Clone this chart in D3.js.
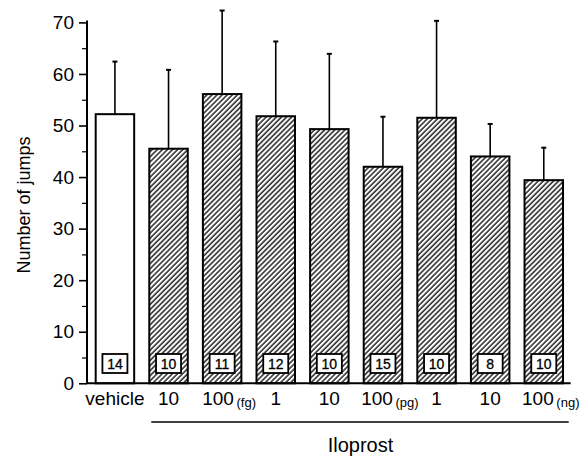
<!DOCTYPE html>
<html><head><meta charset="utf-8">
<script src="https://cdn.jsdelivr.net/npm/d3@7"></script>
<style>body{margin:0;background:#fff}svg{display:block}</style>
</head><body>
<script>
const labels = ["vehicle","10","100","1","10","100","1","10","100"];
const units  = ["","","(fg)","","","(pg)","","","(ng)"];
const means  = [52.2, 45.5, 56.1, 51.8, 49.3, 42.0, 51.5, 44.0, 39.4];
const sems   = [10.2, 15.3, 16.2, 14.5, 14.6, 9.7, 18.8, 6.3, 6.3];
const counts = [14, 10, 11, 12, 10, 15, 10, 8, 10];
const yTicks = [0,10,20,30,40,50,60,70];
const yMinor = [5,15,25,35,45,55,65];
const groupLabel = "Iloprost";
const yTitle = "Number of jumps";

const W=587,H=461;
const svg=d3.select("body").append("svg").attr("width",W).attr("height",H);
const defs=svg.append("defs");
const P=3.6;
const pat=defs.append("pattern").attr("id","hatch").attr("patternUnits","userSpaceOnUse")
  .attr("width",P).attr("height",P).attr("patternTransform","rotate(45)");
pat.append("rect").attr("width",P).attr("height",P).attr("fill","#fff");
pat.append("line").attr("x1",1).attr("x2",1).attr("y1",0).attr("y2",P).attr("stroke","#222").attr("stroke-width",1.5);

const font="'Liberation Sans', Arial, Helvetica, sans-serif";
const idx=d3.range(means.length);
const x=d3.scaleBand().domain(idx).range([87,571.7]).paddingInner(0.282).paddingOuter(0.162);
const y=d3.scaleLinear().domain([0,70]).range([383.3,22.4]);

// y axis
const ya=svg.append("g").attr("transform","translate(87,0)")
  .call(d3.axisLeft(y).tickValues(yTicks).tickSize(8).tickPadding(5).tickSizeOuter(0));
ya.select(".domain").attr("stroke","#000").attr("stroke-width",2).attr("d",`M0,${y(70)-2}V${y(0)}`);
ya.selectAll(".tick line").attr("stroke","#000").attr("stroke-width",1.6);
ya.selectAll(".tick text").attr("font-family",font).attr("font-size",19).attr("fill","#000");
svg.append("g").attr("transform","translate(87,0)")
  .call(d3.axisLeft(y).tickValues(yMinor).tickSize(5).tickFormat(""))
  .call(g=>{g.select(".domain").remove();g.selectAll("line").attr("stroke","#000").attr("stroke-width",1.2);});

// bars
const bars=svg.append("g");
bars.selectAll("rect").data(idx).join("rect")
  .attr("x",i=>x(i)).attr("width",x.bandwidth())
  .attr("y",i=>y(means[i])).attr("height",i=>y(0)-y(means[i]))
  .attr("fill",i=>i===0?"#fff":"url(#hatch)").attr("stroke","#000").attr("stroke-width",2);

// error bars
const eb=svg.append("g").attr("stroke","#000");
eb.selectAll("line.v").data(idx).join("line").attr("class","v")
  .attr("x1",i=>x(i)+x.bandwidth()/2).attr("x2",i=>x(i)+x.bandwidth()/2)
  .attr("y1",i=>y(means[i])).attr("y2",i=>y(means[i]+sems[i])).attr("stroke-width",1.6);
eb.selectAll("line.c").data(idx).join("line").attr("class","c")
  .attr("x1",i=>x(i)+x.bandwidth()/2-2.5).attr("x2",i=>x(i)+x.bandwidth()/2+2.5)
  .attr("y1",i=>y(means[i]+sems[i])).attr("y2",i=>y(means[i]+sems[i])).attr("stroke-width",2);

// baseline
svg.append("line").attr("x1",86).attr("x2",x.range()[1]-1).attr("y1",y(0)).attr("y2",y(0))
  .attr("stroke","#000").attr("stroke-width",2);

// count boxes
const cb=svg.append("g");
cb.selectAll("rect").data(idx).join("rect")
  .attr("x",i=>x(i)+x.bandwidth()/2-12.5).attr("width",25)
  .attr("y",354).attr("height",19)
  .attr("fill","#fff").attr("stroke","#000").attr("stroke-width",1.8);
cb.selectAll("text").data(idx).join("text")
  .attr("x",i=>x(i)+x.bandwidth()/2).attr("y",369)
  .attr("text-anchor","middle").attr("font-family",font).attr("font-size",14)
  .attr("stroke","#000").attr("stroke-width",0.3)
  .text(i=>counts[i]);

// x labels
const xl=svg.append("g");
const t=xl.selectAll("text").data(idx).join("text")
  .attr("x",i=>x(i)+x.bandwidth()/2+(units[i]?7:0)).attr("y",405)
  .attr("text-anchor","middle").attr("font-family",font).attr("font-size",19).attr("fill","#000");
t.append("tspan").text(i=>labels[i]);
t.append("tspan").attr("font-size",13).attr("dy",2).text(i=>units[i]? "\u2009"+units[i] : "");

// group underline
svg.append("line").attr("x1",x(1)+2).attr("x2",x.range()[1]-3).attr("y1",422).attr("y2",422)
  .attr("stroke","#000").attr("stroke-width",1.6);
svg.append("text").attr("x",(x(1)+x.range()[1])/2).attr("y",452).attr("text-anchor","middle")
  .attr("font-family",font).attr("font-size",20).text(groupLabel);

// y title
svg.append("text").attr("transform",`translate(30,205) rotate(-90)`).attr("text-anchor","middle")
  .attr("font-family",font).attr("font-size",18).text(yTitle);
</script>
</body></html>
